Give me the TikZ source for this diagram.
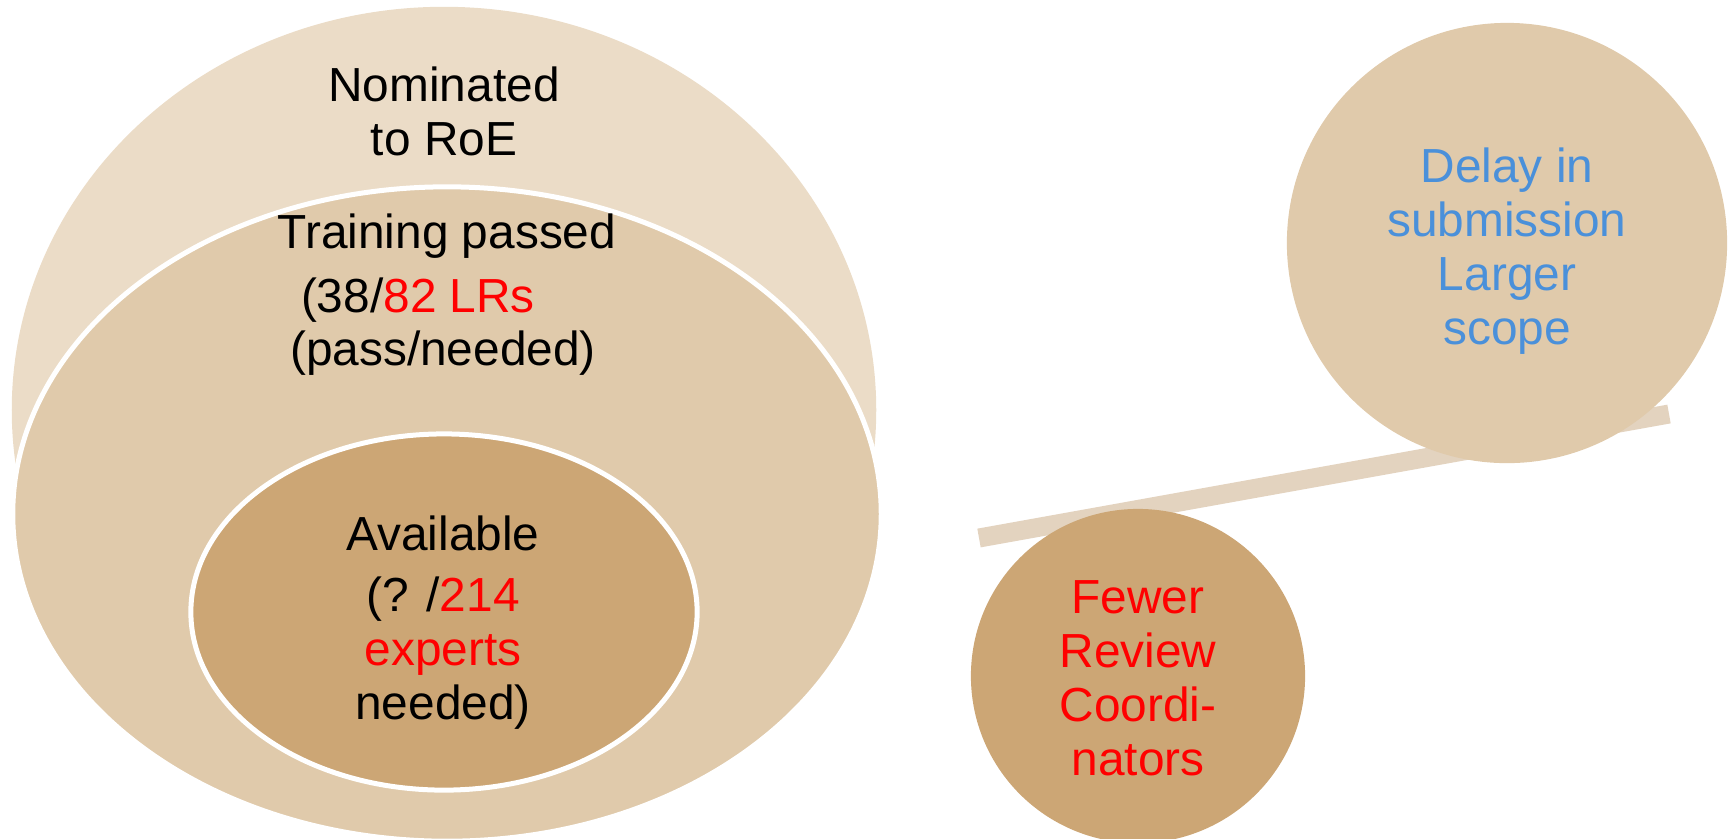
\documentclass[tikz,border=0pt]{standalone}
\usepackage{fontspec}
\setmainfont{Liberation Sans}
\usetikzlibrary{shapes.geometric,positioning}
\definecolor{tanlight}{HTML}{EBDCC7}
\definecolor{tanmid}{HTML}{E0CAAB}
\definecolor{tandark}{HTML}{CCA675}
\definecolor{tanbar}{HTML}{E3D3BF}
\definecolor{txtblue}{HTML}{4A90DA}
\tikzset{
blob/.style={ellipse, inner sep=0pt, outer sep=0pt},
rim/.style={draw=white, line width=0.05cm},
txt/.style={align=center, inner sep=0pt, font=\fontsize{13.6pt}{15.4pt}\selectfont},
}

\begin{document}
\begin{tikzpicture}
    [x=0.01cm, y=-0.01cm]
    \useasboundingbox (0,0) rectangle (1733,838);

    % nested ellipses
    \node [blob, fill=tanlight, minimum width=8.64cm, minimum height=8.06cm] (roe) at (444,410) {};
    \node [blob, rim, fill=tanmid, minimum width=8.68cm, minimum height=6.54cm] (trained) at (447,514) {};
    \node [blob, rim, fill=tandark, minimum width=5.06cm, minimum height=3.56cm] (avail) at (444,612) {};

    \node [txt] (roetxt) at (444,111) {Nominated\\to RoE};
    \node [txt] (trtxt) at (447,236) {Training passed};
    \node [txt, anchor=base] (trnum) at (418,312) {(38/\textcolor{red}{82 LRs}};
    \node [txt, anchor=base] (trnote) at (443,365) {(pass/needed)};
    \node [txt] (avtxt) at (443,533) {Available};
    \node [txt] (avnum) at (443,653) {(? /\textcolor{red}{214}\\\textcolor{red}{experts}\\needed)};

    % balance
    \coordinate (barL) at (979,538);
    \coordinate (barR) at (1669,414);
    \draw [tanbar, line width=0.19cm] (barL) -- (barR);

    \node [circle, fill=tanmid, minimum size=4.40cm, inner sep=0pt] (delay) at (1507,243) {};
    \node [circle, fill=tandark, minimum size=3.34cm, inner sep=0pt] (fewer) at (1138,676) {};

    \node [txt, text=txtblue] (delaytxt) at (1507,251) {Delay in\\submission\\Larger\\scope};
    \node [txt, text=red] (fewertxt) at (1138,678) {Fewer\\Review\\Coordi-\\nators};

\end{tikzpicture}
\end{document}
